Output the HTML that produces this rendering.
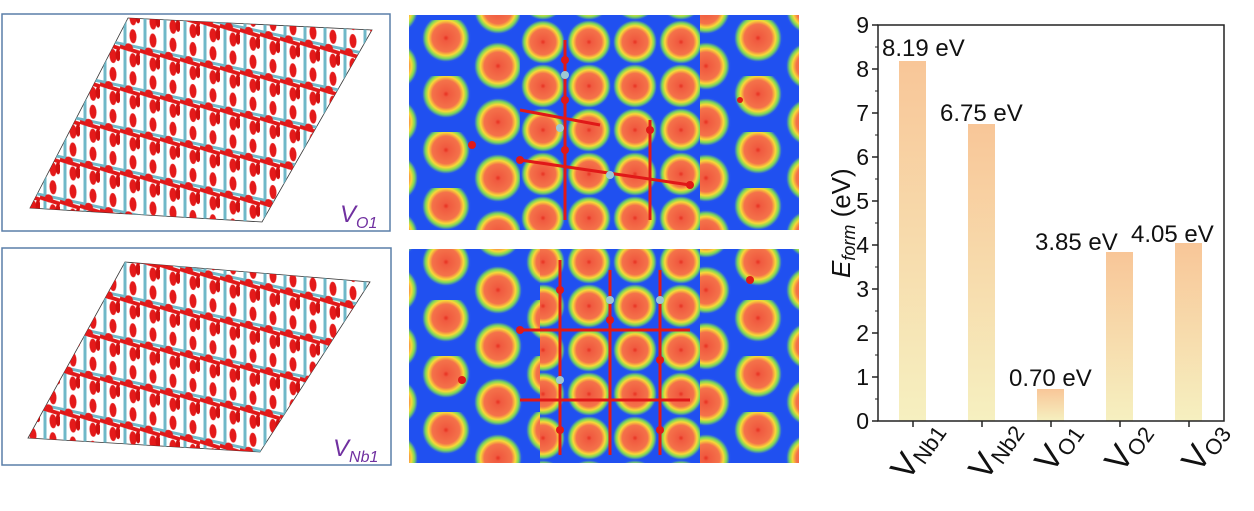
<!DOCTYPE html>
<html><head><meta charset="utf-8"><style>
body{margin:0;background:#fff;width:1254px;height:506px;overflow:hidden;font-family:"Liberation Sans",sans-serif}
</style></head><body>
<svg width="1254" height="506" viewBox="0 0 1254 506" xmlns="http://www.w3.org/2000/svg">
<defs>
<radialGradient id="blob">
<stop offset="0" stop-color="#e83020"/>
<stop offset="0.12" stop-color="#f05a40"/>
<stop offset="0.55" stop-color="#f4724a"/>
<stop offset="0.7" stop-color="#f8d838"/>
<stop offset="0.82" stop-color="#7ed858"/>
<stop offset="0.95" stop-color="#2252f0"/>
</radialGradient>
<pattern id="heat" width="104" height="56" patternUnits="userSpaceOnUse" x="420" y="20">
<rect width="104" height="56" fill="#2050f0"/>
<circle cx="26" cy="18" r="25" fill="url(#blob)"/>
<circle cx="78" cy="46" r="25" fill="url(#blob)"/>
<circle cx="78" cy="-10" r="25" fill="url(#blob)"/>
</pattern>
<pattern id="heat2" width="46" height="44" patternUnits="userSpaceOnUse" x="520" y="20">
<rect width="46" height="44" fill="#2050f0"/>
<circle cx="23" cy="22" r="23" fill="url(#blob)"/>
</pattern>
<pattern id="cry" width="20" height="42" patternUnits="userSpaceOnUse" patternTransform="skewY(12)">
<line x1="5" y1="0" x2="5" y2="42" stroke="#6fb8c8" stroke-width="3"/>
<line x1="0" y1="18" x2="20" y2="18" stroke="#6fb8c8" stroke-width="3"/>
<line x1="0" y1="21" x2="20" y2="23" stroke="#e01818" stroke-width="4"/>
<ellipse cx="13" cy="8" rx="3.5" ry="7" fill="#e41a1a"/>
<ellipse cx="13" cy="32" rx="3.5" ry="7" fill="#e41a1a"/>
<circle cx="9" cy="20" r="4" fill="#e41a1a"/>
<ellipse cx="18" cy="30" rx="2.5" ry="6" fill="#d01010"/>
</pattern>
<linearGradient id="bar" x1="0" y1="0" x2="0" y2="1">
<stop offset="0" stop-color="#f8c698"/>
<stop offset="1" stop-color="#f6f0c0"/>
</linearGradient>
<clipPath id="p1"><polygon points="128,18 372,30 262,222 30,208"/></clipPath>
<clipPath id="p2"><polygon points="125,262 370,282 260,452 28,438"/></clipPath>
</defs>

<rect x="2" y="14" width="388" height="217" fill="#fff" stroke="#5a7fa8" stroke-width="1.5"/>
<polygon points="128,18 372,30 262,222 30,208" fill="none" stroke="#333" stroke-width="0.8"/>
<rect x="0" y="0" width="400" height="240" fill="url(#cry)" clip-path="url(#p1)"/>
<text x="340" y="222" font-size="24" font-style="italic" fill="#7030a0">V<tspan font-size="16" dy="6">O1</tspan></text>

<rect x="2" y="248" width="389" height="217" fill="#fff" stroke="#5a7fa8" stroke-width="1.5"/>
<polygon points="125,262 370,282 260,452 28,438" fill="none" stroke="#333" stroke-width="0.8"/>
<rect x="0" y="240" width="400" height="240" fill="url(#cry)" clip-path="url(#p2)"/>
<text x="333" y="456" font-size="24" font-style="italic" fill="#7030a0">V<tspan font-size="16" dy="6">Nb1</tspan></text>

<rect x="409" y="15" width="390" height="215" fill="url(#heat)"/>
<rect x="520" y="15" width="180" height="215" fill="url(#heat2)"/>
<rect x="409" y="249" width="390" height="214" fill="url(#heat)"/>
<rect x="540" y="249" width="160" height="214" fill="url(#heat2)"/>
<g stroke="#e01818" stroke-width="3">
<line x1="565" y1="40" x2="565" y2="220"/><line x1="520" y1="160" x2="690" y2="185"/><line x1="520" y1="110" x2="600" y2="125"/><line x1="650" y1="120" x2="650" y2="220"/>
<line x1="560" y1="260" x2="560" y2="455"/><line x1="610" y1="270" x2="610" y2="455"/><line x1="660" y1="270" x2="660" y2="455"/><line x1="520" y1="330" x2="690" y2="330"/><line x1="520" y1="400" x2="690" y2="400"/>
</g>
<g fill="#e01818">
<circle cx="565" cy="60" r="4"/><circle cx="565" cy="100" r="4"/><circle cx="565" cy="150" r="4"/><circle cx="520" cy="160" r="4"/><circle cx="650" cy="130" r="4"/><circle cx="690" cy="185" r="4"/><circle cx="472" cy="145" r="4"/><circle cx="740" cy="100" r="3"/>
<circle cx="560" cy="290" r="4"/><circle cx="610" cy="320" r="4"/><circle cx="660" cy="360" r="4"/><circle cx="520" cy="330" r="4"/><circle cx="560" cy="430" r="4"/><circle cx="660" cy="430" r="4"/><circle cx="462" cy="380" r="4"/><circle cx="750" cy="280" r="4"/>
</g>
<g fill="#9cc8d4"><circle cx="565" cy="75" r="4"/><circle cx="560" cy="128" r="4"/><circle cx="610" cy="175" r="4"/><circle cx="610" cy="300" r="4"/><circle cx="560" cy="380" r="4"/><circle cx="660" cy="300" r="4"/></g>

<g fill="#111">
<rect x="899" y="61" width="27" height="360" fill="url(#bar)"/>
<rect x="968" y="124" width="27" height="297" fill="url(#bar)"/>
<rect x="1037" y="389" width="27" height="32" fill="url(#bar)"/>
<rect x="1106" y="252" width="27" height="169" fill="url(#bar)"/>
<rect x="1175" y="243" width="27" height="178" fill="url(#bar)"/>
<g font-size="24">
<text x="882" y="56">8.19 eV</text>
<text x="940" y="121">6.75 eV</text>
<text x="1009" y="386">0.70 eV</text>
<text x="1035" y="250">3.85 eV</text>
<text x="1131" y="242">4.05 eV</text>
</g>
<path d="M878 25 H1224 V421 H878 Z" fill="none" stroke="#222" stroke-width="1.5"/>
<g stroke="#222" stroke-width="1.5">
<line x1="878" y1="25" x2="872" y2="25"/><line x1="878" y1="69" x2="872" y2="69"/><line x1="878" y1="113" x2="872" y2="113"/><line x1="878" y1="157" x2="872" y2="157"/><line x1="878" y1="201" x2="872" y2="201"/><line x1="878" y1="245" x2="872" y2="245"/><line x1="878" y1="289" x2="872" y2="289"/><line x1="878" y1="333" x2="872" y2="333"/><line x1="878" y1="377" x2="872" y2="377"/><line x1="878" y1="421" x2="872" y2="421"/>
<line x1="913" y1="421" x2="913" y2="427"/><line x1="982" y1="421" x2="982" y2="427"/><line x1="1051" y1="421" x2="1051" y2="427"/><line x1="1120" y1="421" x2="1120" y2="427"/><line x1="1189" y1="421" x2="1189" y2="427"/>
</g>
<g stroke="#222" stroke-width="1">
<line x1="878" y1="47" x2="875" y2="47"/><line x1="878" y1="91" x2="875" y2="91"/><line x1="878" y1="135" x2="875" y2="135"/><line x1="878" y1="179" x2="875" y2="179"/><line x1="878" y1="223" x2="875" y2="223"/><line x1="878" y1="267" x2="875" y2="267"/><line x1="878" y1="311" x2="875" y2="311"/><line x1="878" y1="355" x2="875" y2="355"/><line x1="878" y1="399" x2="875" y2="399"/>
</g>
<g text-anchor="end" font-size="23">
<text x="869" y="33">9</text><text x="869" y="77">8</text><text x="869" y="121">7</text><text x="869" y="165">6</text><text x="869" y="209">5</text><text x="869" y="253">4</text><text x="869" y="297">3</text><text x="869" y="341">2</text><text x="869" y="385">1</text><text x="869" y="429">0</text>
</g>
<text transform="translate(850,278) rotate(-90)" font-size="26"><tspan font-style="italic">E<tspan font-size="18" dy="5">form</tspan></tspan><tspan dy="-5"> (eV)</tspan></text>
<g font-size="34">
<text transform="translate(908,482) rotate(-55)">V<tspan font-size="22" dy="4">Nb1</tspan></text>
<text transform="translate(986,482) rotate(-55)">V<tspan font-size="22" dy="4">Nb2</tspan></text>
<text transform="translate(1052,474) rotate(-55)">V<tspan font-size="22" dy="4">O1</tspan></text>
<text transform="translate(1122,474) rotate(-55)">V<tspan font-size="22" dy="4">O2</tspan></text>
<text transform="translate(1199,474) rotate(-55)">V<tspan font-size="22" dy="4">O3</tspan></text>
</g>
</g>
</svg>
</body></html>
